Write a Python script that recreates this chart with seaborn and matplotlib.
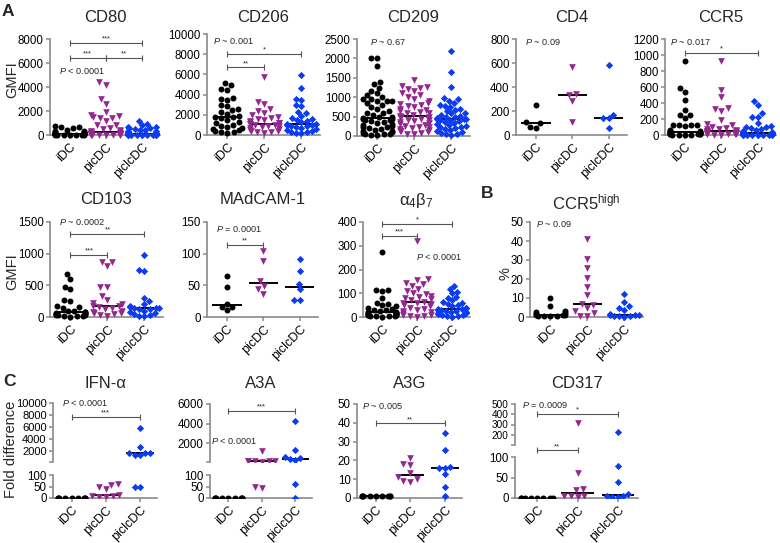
import matplotlib
matplotlib.use('Agg')  # Use non-interactive backend
import matplotlib.pyplot as plt
import seaborn as sns
import pandas as pd
import numpy as np

sns.set_style('ticks')
plt.rcParams['font.family'] = ['Liberation Sans', 'DejaVu Sans']
plt.rcParams['mathtext.fontset'] = 'custom'
plt.rcParams['mathtext.rm'] = 'Liberation Sans'
plt.rcParams['mathtext.it'] = 'Liberation Sans:italic'
plt.rcParams['mathtext.bf'] = 'Liberation Sans:bold'

W, H = 780, 543
GROUPS = ['iDC', 'picDC', 'piclcDC']
COLORS = {'iDC': 'black', 'picDC': '#93278f', 'piclcDC': '#0b3cf2'}
MARKERS = {'iDC': 'o', 'picDC': 'v', 'piclcDC': 'D'}
SIZES = {'iDC': 4.3, 'picDC': 4.8, 'piclcDC': 3.7}
AXIS_GRAY = '#8a8a8a'
BRACKET_GRAY = '#555555'

# ---- data ----
cd80_idc = [780, 700, 650, 600, 450, 350, 300, 250, 220, 200, 180, 150, 130, 120, 110,
            100, 90, 80, 70, 60, 55, 50, 45, 40, 35, 30, 25, 20, 15, 10]
cd80_pic = [4400, 4200, 3000, 2600, 1900, 1700, 1600, 1500, 1450, 1400, 1200, 850, 800,
            600, 500, 400, 350, 300, 250, 200, 180, 160, 150, 120, 100, 90, 80, 70, 60,
            50, 40, 30, 25, 20, 15, 10, 5, 5]
cd80_piclc = [1200, 900, 850, 700, 650, 600, 550, 500, 450, 400, 350, 300, 250, 200, 180,
              150, 130, 120, 100, 90, 80, 70, 60, 50, 45, 40, 35, 30, 25, 20, 15, 10, 8, 5]

cd206_idc = [5100, 5000, 4600, 4500, 3700, 3600, 3500, 3000, 2900, 2600, 2500, 2300, 2100,
             1900, 1800, 1800, 1700, 1500, 1300, 1200, 1000, 900, 800, 700, 600, 500, 400,
             300, 250, 200]
cd206_pic = [5700, 3300, 3100, 2600, 2400, 2200, 2000, 1800, 1700, 1600, 1500, 1400, 1300,
             1200, 1150, 1100, 1050, 1000, 950, 900, 850, 800, 700, 600, 500, 400, 350,
             300, 250, 200]
cd206_piclc = [5900, 4700, 3600, 3500, 3000, 2900, 2300, 2200, 1900, 1700, 1600, 1500, 1400,
               1300, 1100, 1050, 1000, 950, 900, 850, 800, 700, 600, 500, 400, 300, 250,
               200, 150]

cd209_idc = [2020, 2000, 1800, 1400, 1350, 1250, 1150, 1100, 1050, 1000, 950, 950, 900, 900,
             900, 850, 800, 750, 700, 650, 600, 600, 550, 500, 480, 460, 450, 440, 420, 400,
             380, 350, 330, 300, 280, 260, 240, 220, 200, 180, 160, 140, 120, 100, 80, 60,
             50, 40, 30, 20]
cd209_pic = [1450, 1300, 1270, 1250, 1200, 1150, 1100, 1050, 1000, 950, 900, 850, 820, 800,
             780, 750, 700, 680, 650, 620, 600, 580, 550, 520, 500, 490, 480, 460, 440, 420,
             400, 380, 350, 330, 300, 280, 260, 240, 220, 200, 180, 160, 140, 120, 100, 80,
             60, 40]
cd209_piclc = [2180, 1660, 1270, 970, 950, 900, 850, 800, 780, 750, 700, 680, 650, 600, 580,
               550, 520, 500, 480, 460, 450, 440, 430, 420, 400, 380, 350, 330, 300, 280,
               260, 240, 220, 200, 180, 150, 120, 100, 80, 60, 40, 20]

cd4_idc = [250, 105, 100, 65, 62]
cd4_pic = [565, 340, 335, 285, 110]
cd4_piclc = [583, 167, 140, 138, 56]

ccr5_idc = [930, 590, 540, 440, 310, 250, 250, 210, 130, 130, 125, 120, 110, 60, 50, 45, 40,
            35, 30, 28, 25, 22, 20, 18, 15, 12, 10, 8, 5, 3, 2, 1]
ccr5_pic = [920, 565, 480, 335, 330, 300, 190, 140, 120, 100, 90, 80, 70, 60, 55, 50, 45, 40,
            38, 35, 30, 28, 25, 22, 20, 18, 15, 12, 10, 8, 5, 3]
ccr5_piclc = [430, 380, 270, 230, 230, 150, 110, 105, 100, 90, 80, 60, 50, 40, 35, 30, 25,
              22, 20, 18, 15, 12, 10, 8, 6, 5, 4, 3, 2, 1, 1, 0.5]

cd103_idc = [680, 600, 480, 440, 270, 250, 170, 160, 150, 100, 90, 80, 75, 70, 60, 50, 45,
             40, 35, 30, 25, 20, 15, 10, 5]
cd103_pic = [875, 870, 800, 480, 470, 330, 270, 220, 200, 180, 170, 160, 150, 120, 100, 80,
             70, 60, 40, 30, 20]
cd103_piclc = [980, 745, 730, 300, 250, 200, 170, 160, 150, 140, 135, 130, 120, 100, 80, 60,
               40, 30, 20, 10]

madcam_idc = [65, 47, 21, 16, 16, 11]
madcam_pic = [104, 89, 57, 49, 44, 37]
madcam_piclc = [92, 73, 52, 44, 27, 27]

a4b7_idc = [272, 115, 112, 110, 80, 60, 55, 50, 45, 40, 35, 30, 28, 25, 22, 20, 18, 16, 15,
            14, 12, 10, 9, 8, 7, 6, 5, 4, 3, 2]
a4b7_pic = [320, 160, 155, 145, 140, 130, 120, 110, 100, 95, 90, 85, 80, 75, 70, 65, 60, 58,
            55, 50, 45, 40, 35, 30, 25, 20, 15, 10, 8, 5, 3, 2]
a4b7_piclc = [132, 120, 107, 100, 86, 80, 70, 65, 60, 55, 50, 45, 40, 38, 35, 32, 30, 28, 26,
              25, 22, 20, 18, 15, 12, 10, 8, 5, 3, 1]

ccr5hi_idc = [10, 6, 3, 2.5, 2, 1.5, 1.2, 1, 0.8, 0.6, 0.5, 0.4, 0.3]
ccr5hi_pic = [41, 30.5, 26, 20.5, 15.6, 11.8, 7, 6.5, 4.7, 3, 2, 0.7, 0.5]
ccr5hi_piclc = [12.3, 8, 5.6, 4.5, 3.9, 1.5, 1.2, 1, 0.8, 0.6, 0.5, 0.3, 0.2]

ifna_idc = [1, 1, 1, 1, 1, 1, 1, 1, 1]
ifna_pic = [62, 58, 47, 40, 14, 10, 8, 5, 3]
ifna_piclc = [5830, 2580, 1600, 1550, 1530, 1300, 1280, 50, 49]

a3a_idc = [1, 1, 1, 1, 1, 1, 1, 1, 1]
a3a_pic = [1250, 240, 220, 200, 180, 160, 140, 48, 45]
a3a_piclc = [4280, 1300, 620, 500, 400, 310, 62, 2]

a3g_idc = [1, 1, 1, 1, 1, 1, 1, 1, 1]
a3g_pic = [21.5, 18, 17.5, 13.5, 11, 10, 9, 8.5]
a3g_piclc = [34.7, 25.5, 16.5, 16.2, 15.8, 12.6, 6, 0.8]

cd317_idc = [1, 1, 1, 1, 1, 1, 1, 1]
cd317_pic = [319, 62, 21, 19, 5, 4, 4, 3]
cd317_piclc = [231, 78, 40, 10, 5, 4, 3, 3]

# ---- panel layout (pixel boxes: x0, x1, y_top, y_bottom) ----
panels = [
    dict(title='CD80', box=(50, 160, 39, 135), ty=17, data=(cd80_idc, cd80_pic, cd80_piclc),
         yticks=[0, 2000, 4000, 6000, 8000], ptext=('$P$ < 0.0001', -0.3, 5330),
         brackets=[(0, 2, 7650, '***'), (0, 1, 6450, '***'), (1, 2, 6450, '**')]),
    dict(title='CD206', box=(207, 320, 34, 135), ty=17, data=(cd206_idc, cd206_pic, cd206_piclc),
         yticks=[0, 2000, 4000, 6000, 8000, 10000], ptext=('$P$ ~ 0.001', -0.4, 9300),
         brackets=[(0, 2, 8050, '*'), (0, 1, 6700, '**')]),
    dict(title='CD209', box=(357, 470, 39, 136), ty=17, data=(cd209_idc, cd209_pic, cd209_piclc),
         yticks=[0, 500, 1000, 1500, 2000, 2500], ptext=('$P$ ~ 0.67', -0.2, 2420),
         brackets=[]),
    dict(title='CD4', box=(516, 627, 39, 135), ty=17, data=(cd4_idc, cd4_pic, cd4_piclc),
         yticks=[0, 200, 400, 600, 800], ptext=('$P$ ~ 0.09', -0.3, 775), brackets=[]),
    dict(title='CCR5', box=(665, 776, 39, 135), ty=17, data=(ccr5_idc, ccr5_pic, ccr5_piclc),
         yticks=[0, 200, 400, 600, 800, 1000, 1200], ptext=('$P$ ~ 0.017', -0.4, 1160),
         brackets=[(0, 2, 1030, '*')]),
    dict(title='CD103', box=(50, 163, 222, 317), ty=200, data=(cd103_idc, cd103_pic, cd103_piclc),
         yticks=[0, 500, 1000, 1500], ptext=('$P$ ~ 0.0002', -0.3, 1500),
         brackets=[(0, 2, 1310, '**'), (0, 1, 980, '***')]),
    dict(title='MAdCAM-1', box=(207, 318, 222, 317), ty=200, data=(madcam_idc, madcam_pic, madcam_piclc),
         yticks=[0, 50, 100, 150], ptext=('$P$ = 0.0001', -0.3, 139),
         brackets=[(0, 1, 114, '**')]),
    dict(title='α$_4$β$_7$', box=(363, 470, 222, 317), ty=200, data=(a4b7_idc, a4b7_pic, a4b7_piclc),
         yticks=[0, 100, 200, 300, 400], ptext=('$P$ < 0.0001', 0.95, 252),
         brackets=[(0, 2, 391, '*'), (0, 1, 340, '***')]),
    dict(title='CCR5$^{\\mathrm{high}}$', box=(530, 643, 222, 317), ty=202,
         data=(ccr5hi_idc, ccr5hi_pic, ccr5hi_piclc),
         yticks=[0, 10, 20, 30, 40, 50], ptext=('$P$ ~ 0.09', -0.38, 49), brackets=[]),
    dict(title='A3G', box=(357, 462, 404, 498), ty=384, data=(a3g_idc, a3g_pic, a3g_piclc),
         yticks=[0, 10, 20, 30, 40, 50], ptext=('$P$ ~ 0.005', -0.4, 49),
         brackets=[(0, 2, 39.7, '**')]),
]

broken_panels = [
    dict(title='IFN-α', x=(53, 157), top=(403, 462), bottom=(475, 498), ty=384,
         data=(ifna_idc, ifna_pic, ifna_piclc), top_lim=(100, 10000),
         top_ticks=[100, 2000, 4000, 6000, 8000, 10000], top_fs=8.0,
         ptext=('$P$ < 0.0001', -0.3, 10000), top_brackets=[(0, 2, 7600, '***')], bottom_brackets=[]),
    dict(title='A3A', x=(210, 312), top=(404, 462), bottom=(475, 498), ty=384,
         data=(a3a_idc, a3a_pic, a3a_piclc), top_lim=(100, 6000),
         top_ticks=[100, 2000, 4000, 6000], top_fs=8.3,
         ptext=('$P$ < 0.0001', -0.52, 2250), top_brackets=[(0, 2, 5280, '***')], bottom_brackets=[]),
    dict(title='CD317', x=(515, 638), top=(404, 445), bottom=(457, 498), ty=384,
         data=(cd317_idc, cd317_pic, cd317_piclc), top_lim=(100, 500),
         top_ticks=[100, 200, 300, 400, 500], top_fs=7.2,
         ptext=('$P$ = 0.0009', -0.38, 492), top_brackets=[(0, 2, 403, '*')],
         bottom_brackets=[(0, 1, 116, '**')]),
]

ylabels = [('GMFI', 12, 80), ('GMFI', 12, 272), ('%', 505, 274), ('Fold difference', 11, 449)]
letters = [('A', 8, 11), ('B', 487, 193), ('C', 9, 382)]


fig = plt.figure(figsize=(W / 100, H / 100), dpi=100)


def px_axes(x0, x1, y0, y1):
    return fig.add_axes([x0 / W, 1 - y1 / H, (x1 - x0) / W, (y1 - y0) / H])


def make_df(vals):
    rows = [(g, v) for g, vs in zip(GROUPS, vals) for v in vs]
    return pd.DataFrame(rows, columns=['group', 'value'])


def draw_points(ax, df, clip=True, lo=-np.inf, hi=np.inf):
    # only the points that belong to this axis segment are swarmed
    shown = df[(df.value >= lo) & (df.value <= hi)]
    for g in GROUPS:
        sub = shown[shown.group == g]
        if sub.empty:
            continue
        sns.swarmplot(data=sub, x='group', y='value', order=GROUPS,
                      marker=MARKERS[g], color=COLORS[g], size=SIZES[g], linewidth=0,
                      warn_thresh=1, ax=ax)
    # median bar from the full group
    sns.boxplot(data=df, x='group', y='value', order=GROUPS, width=0.8,
                showbox=False, showcaps=False, showfliers=False,
                whiskerprops={'visible': False},
                medianprops={'color': 'black', 'linewidth': 1.4}, ax=ax)
    if not clip:
        for c in ax.collections:
            c.set_clip_on(False)
    ax.set_xlabel('')
    ax.set_ylabel('')
    ax.set_xlim(-0.55, 2.5)


def style_axis(ax, show_x=True, ysize=8.3):
    sns.despine(ax=ax, bottom=not show_x)
    for s in ['left', 'bottom']:
        ax.spines[s].set_color(AXIS_GRAY)
        ax.spines[s].set_linewidth(1.2)
    ax.tick_params(colors=AXIS_GRAY, labelcolor='black', length=3, width=1.1,
                   labelsize=ysize, pad=1.5)
    if show_x:
        ax.set_xticks(range(3))
        ax.set_xticklabels(GROUPS, rotation=45, ha='right', rotation_mode='anchor', fontsize=9)
    else:
        ax.tick_params(axis='x', bottom=False, labelbottom=False)


def bracket(ax, i, j, y, label):
    ax.plot([i, j], [y, y], color=BRACKET_GRAY, lw=0.8, marker='|', ms=4.5, mew=0.8,
            clip_on=False)
    ax.annotate(label, xy=((i + j) / 2, y), xytext=(0, 0.3), textcoords='offset points',
                ha='center', va='bottom', fontsize=5.5, annotation_clip=False)


def p_label(ax, spec):
    txt, x, y = spec
    ax.text(x, y, txt, fontsize=6.6, ha='left', va='center')


for p in panels:
    x0, x1, y0, y1 = p['box']
    ax = px_axes(x0, x1, y0, y1)
    draw_points(ax, make_df(p['data']), clip=False)
    ax.set_ylim(p['yticks'][0], p['yticks'][-1])
    ax.set_yticks(p['yticks'])
    style_axis(ax)
    p_label(ax, p['ptext'])
    for b in p['brackets']:
        bracket(ax, *b)
    fig.text((x0 + x1) / 2 / W, 1 - p['ty'] / H, p['title'], ha='center', va='center', fontsize=12)

for p in broken_panels:
    x0, x1 = p['x']
    df = make_df(p['data'])
    ax_top = px_axes(x0, x1, *p['top'])
    ax_bot = px_axes(x0, x1, *p['bottom'])
    draw_points(ax_top, df, lo=p['top_lim'][0])
    draw_points(ax_bot, df, hi=100)
    ax_top.set_ylim(*p['top_lim'])
    ax_top.set_yticks(p['top_ticks'])
    ax_top.set_yticklabels([''] + [str(t) for t in p['top_ticks'][1:]])
    ax_bot.set_ylim(0, 100)
    ax_bot.set_yticks([0, 50, 100])
    style_axis(ax_top, show_x=False, ysize=p['top_fs'])
    style_axis(ax_bot)
    p_label(ax_top, p['ptext'])
    for b in p['top_brackets']:
        bracket(ax_top, *b)
    for b in p['bottom_brackets']:
        bracket(ax_bot, *b)
    fig.text((x0 + x1) / 2 / W, 1 - p['ty'] / H, p['title'], ha='center', va='center', fontsize=12)

for txt, x, y in ylabels:
    fig.text(x / W, 1 - y / H, txt, rotation=90, ha='center', va='center', fontsize=10.5)

for txt, x, y in letters:
    fig.text(x / W, 1 - y / H, txt, ha='center', va='center', fontsize=12.5, fontweight='bold')

fig.savefig('out.png', dpi=100)
